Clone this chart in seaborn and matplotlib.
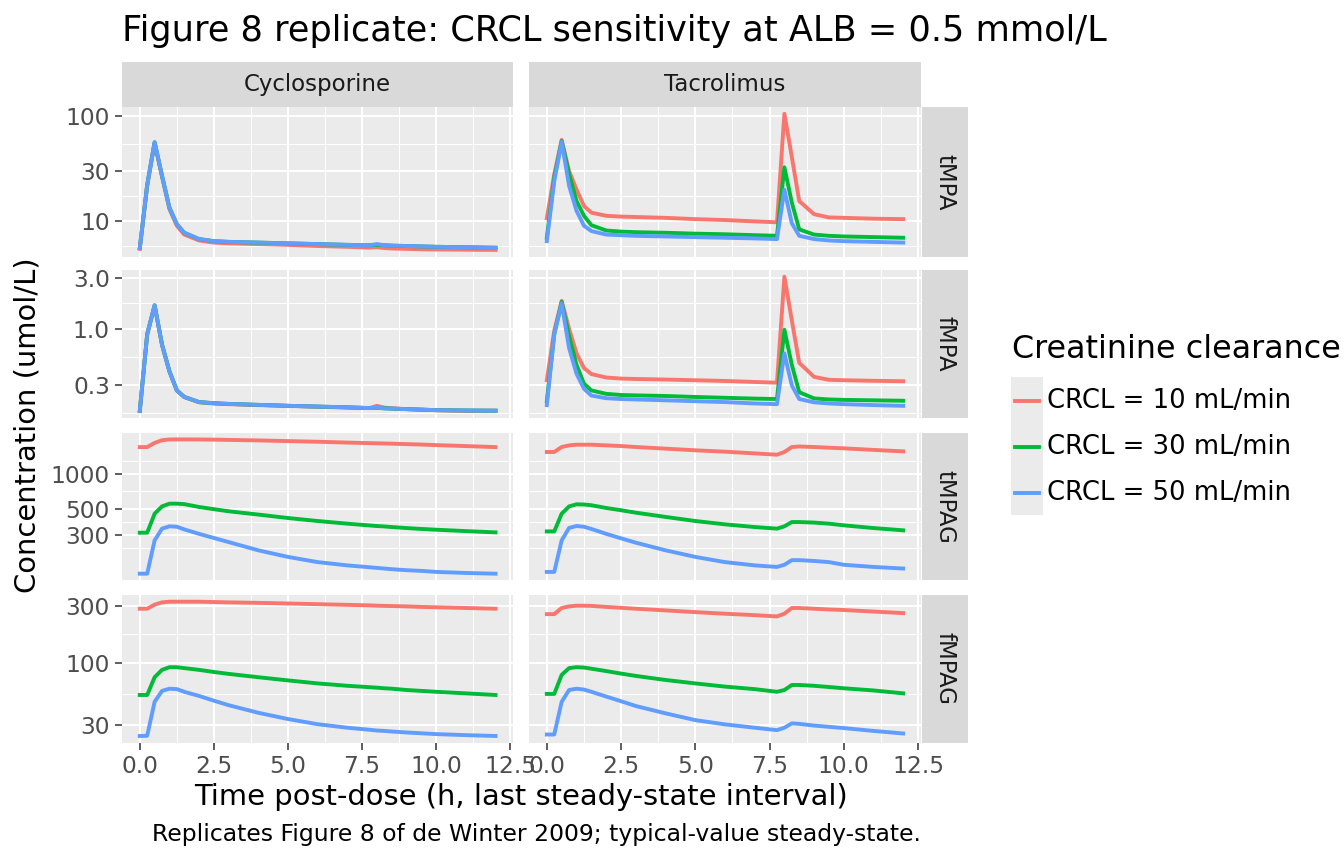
import numpy as np
import pandas as pd
import seaborn as sns
import matplotlib
matplotlib.use("Agg")
import matplotlib.pyplot as plt
from matplotlib.lines import Line2D
from matplotlib.patches import Rectangle
from matplotlib.ticker import FixedLocator, NullFormatter

# ---- values ----
TIME = [0, 0.25, 0.5, 0.75, 1, 1.25, 1.5, 2, 2.5, 3, 4, 5, 6, 7, 7.75, 8, 8.25, 8.5, 9, 9.5, 10, 11, 12]

# total MPA
CYC_TMPA_10 = [5.4, 22, 56, 26.5, 13.0, 9.0, 7.4, 6.5, 6.2, 6.1, 6.0, 5.9, 5.75, 5.65, 5.55, 5.6, 5.5, 5.45, 5.4, 5.35, 5.33, 5.3, 5.28]
CYC_TMPA_30 = [5.5, 22, 56.6, 27, 13.4, 9.3, 7.7, 6.7, 6.4, 6.3, 6.2, 6.1, 6.0, 5.9, 5.85, 5.9, 5.85, 5.8, 5.75, 5.7, 5.65, 5.6, 5.55]
CYC_TMPA_50 = [5.5, 22, 56.6, 27, 13.4, 9.3, 7.7, 6.7, 6.4, 6.3, 6.2, 6.1, 6.0, 5.9, 5.85, 6.0, 5.85, 5.8, 5.75, 5.7, 5.65, 5.6, 5.5]
TAC_TMPA_10 = [10.6, 28, 59.7, 30, 20, 13.9, 12.0, 11.2, 11.0, 10.9, 10.7, 10.4, 10.2, 9.9, 9.7, 106, 41, 15.5, 11.6, 10.8, 10.7, 10.5, 10.4]
TAC_TMPA_30 = [6.9, 26, 58, 28, 15.5, 11.2, 9.1, 8.1, 7.9, 7.8, 7.7, 7.55, 7.45, 7.3, 7.2, 32.6, 15, 8.3, 7.4, 7.2, 7.1, 7.0, 6.9]
TAC_TMPA_50 = [6.4, 24, 57, 21.7, 12.5, 9.0, 8.0, 7.4, 7.3, 7.2, 7.1, 7.0, 6.9, 6.8, 6.7, 19.9, 9.5, 7.2, 6.7, 6.5, 6.4, 6.3, 6.2]

# free MPA
CYC_FMPA_10 = [0.17, 0.89, 1.66, 0.71, 0.40, 0.265, 0.23, 0.205, 0.2, 0.197, 0.193, 0.19, 0.186, 0.183, 0.181, 0.19, 0.183, 0.18, 0.177, 0.175, 0.173, 0.17, 0.171]
CYC_FMPA_30 = [0.17, 0.89, 1.66, 0.71, 0.40, 0.265, 0.23, 0.206, 0.201, 0.198, 0.194, 0.19, 0.187, 0.184, 0.181, 0.182, 0.18, 0.179, 0.177, 0.175, 0.173, 0.172, 0.171]
CYC_FMPA_50 = [0.17, 0.89, 1.66, 0.71, 0.40, 0.265, 0.23, 0.206, 0.201, 0.198, 0.194, 0.19, 0.187, 0.184, 0.181, 0.183, 0.18, 0.179, 0.177, 0.175, 0.173, 0.172, 0.171]
TAC_FMPA_10 = [0.33, 0.96, 1.83, 1.0, 0.59, 0.43, 0.377, 0.35, 0.342, 0.339, 0.335, 0.33, 0.325, 0.318, 0.313, 3.08, 1.2, 0.48, 0.355, 0.333, 0.33, 0.326, 0.323]
TAC_FMPA_30 = [0.21, 0.89, 1.79, 0.85, 0.46, 0.307, 0.265, 0.246, 0.24, 0.238, 0.235, 0.23, 0.226, 0.222, 0.22, 0.98, 0.46, 0.255, 0.223, 0.218, 0.216, 0.214, 0.212]
TAC_FMPA_50 = [0.193, 0.89, 1.73, 0.66, 0.38, 0.275, 0.237, 0.224, 0.22, 0.218, 0.214, 0.21, 0.206, 0.2, 0.197, 0.59, 0.295, 0.22, 0.205, 0.2, 0.197, 0.193, 0.19]

# total MPAG
CYC_TMPAG_10 = [1680, 1680, 1823, 1922, 1950, 1952, 1952, 1950, 1943, 1933, 1914, 1889, 1865, 1835, 1815, 1809, 1803, 1796, 1781, 1766, 1747, 1714, 1680]
CYC_TMPAG_30 = [316, 316, 458, 528, 557, 557, 552, 522, 500, 480, 450, 421, 397, 377, 364, 360, 357, 353, 346, 340, 335, 326, 318]
CYC_TMPAG_50 = [142, 142, 272, 342, 358, 355, 337, 309, 285, 263, 224, 197, 178, 167, 161, 159, 157, 155, 152, 150, 147, 144, 142]
TAC_TMPAG_10 = [1527, 1527, 1683, 1738, 1761, 1761, 1761, 1738, 1715, 1683, 1630, 1578, 1536, 1486, 1448, 1527, 1683, 1700, 1683, 1660, 1640, 1590, 1546]
TAC_TMPAG_30 = [324, 324, 458, 528, 550, 548, 540, 512, 490, 467, 430, 397, 372, 353, 342, 358, 389, 389, 385, 377, 365, 346, 331]
TAC_TMPAG_50 = [147, 147, 272, 347, 360, 355, 340, 309, 283, 260, 224, 197, 178, 167, 162, 169, 185, 185, 182, 178, 169, 162, 157]

# free MPAG
CYC_FMPAG_10 = [283, 283, 306, 320, 324, 324, 324, 324, 322, 320, 317, 313, 309, 305, 302, 300, 299, 298, 296, 293, 291, 287, 283]
CYC_FMPAG_30 = [53.6, 53.6, 75.5, 87, 91.6, 91.6, 90, 87, 83.5, 80.5, 75.5, 71, 67, 64, 62.3, 61.7, 61, 60.5, 59, 58, 57, 55.3, 53.6]
CYC_FMPAG_50 = [24.3, 24.4, 47, 58, 60.5, 60, 57, 52.6, 48, 44, 38, 33.7, 30.5, 28.5, 27.4, 27, 26.8, 26.5, 26, 25.6, 25.2, 24.7, 24.3]
TAC_FMPAG_10 = [255, 255, 287, 296, 300, 300, 299, 293, 288, 283, 274, 265, 257, 250, 244, 257, 287, 287, 283, 279, 276, 268, 260]
TAC_FMPAG_30 = [54.7, 54.7, 79, 90, 91.6, 91, 89, 85, 81, 77.4, 71.6, 67, 63, 60, 57, 59, 65, 65, 64, 62.5, 61, 58.5, 55.3]
TAC_FMPAG_50 = [25, 25, 47, 59, 60.5, 59.5, 57, 52, 47.5, 43.3, 37.6, 33, 30.4, 28.5, 27.2, 28.5, 31, 30.7, 29.7, 29, 28.3, 26.8, 25.5]

DRUGS = ["Cyclosporine", "Tacrolimus"]
ANALYTES = ["tMPA", "fMPA", "tMPAG", "fMPAG"]
CRCL = ["CRCL = 10 mL/min", "CRCL = 30 mL/min", "CRCL = 50 mL/min"]
COLORS = ["#F8766D", "#00BA38", "#619CFF"]

TMPA_BREAKS = [10, 30, 100]
FMPA_BREAKS = [0.3, 1, 3]
TMPAG_BREAKS = [300, 500, 1000]
FMPAG_BREAKS = [30, 100, 300]
TMPA_LABELS = ["10", "30", "100"]
FMPA_LABELS = ["0.3", "1.0", "3.0"]
TMPAG_LABELS = ["300", "500", "1000"]
FMPAG_LABELS = ["30", "100", "300"]
X_BREAKS = [0, 2.5, 5, 7.5, 10, 12.5]
X_LABELS = ["0.0", "2.5", "5.0", "7.5", "10.0", "12.5"]

SERIES = {
    ("Cyclosporine", "tMPA"): [CYC_TMPA_10, CYC_TMPA_30, CYC_TMPA_50],
    ("Tacrolimus", "tMPA"): [TAC_TMPA_10, TAC_TMPA_30, TAC_TMPA_50],
    ("Cyclosporine", "fMPA"): [CYC_FMPA_10, CYC_FMPA_30, CYC_FMPA_50],
    ("Tacrolimus", "fMPA"): [TAC_FMPA_10, TAC_FMPA_30, TAC_FMPA_50],
    ("Cyclosporine", "tMPAG"): [CYC_TMPAG_10, CYC_TMPAG_30, CYC_TMPAG_50],
    ("Tacrolimus", "tMPAG"): [TAC_TMPAG_10, TAC_TMPAG_30, TAC_TMPAG_50],
    ("Cyclosporine", "fMPAG"): [CYC_FMPAG_10, CYC_FMPAG_30, CYC_FMPAG_50],
    ("Tacrolimus", "fMPAG"): [TAC_FMPAG_10, TAC_FMPAG_30, TAC_FMPAG_50],
}
Y_BREAKS = {"tMPA": (TMPA_BREAKS, TMPA_LABELS), "fMPA": (FMPA_BREAKS, FMPA_LABELS),
            "tMPAG": (TMPAG_BREAKS, TMPAG_LABELS), "fMPAG": (FMPAG_BREAKS, FMPAG_LABELS)}

rows = []
for (drug, analyte), vals in SERIES.items():
    for label, v in zip(CRCL, vals):
        for t, c in zip(TIME, v):
            rows.append((drug, analyte, label, t, c))
df = pd.DataFrame(rows, columns=["drug", "analyte", "crcl", "time", "conc"])

# ---- layout (pixel boxes, ggplot-like facet grid) ----
W, H = 1344, 864
COL_X = [(122, 513.3), (529, 921)]
ROW_Y = [(107, 256.7), (270, 417.7), (432.7, 580.4), (595, 742.7)]
TOP_STRIP = (62.3, 106.7)
RIGHT_STRIP = (921.5, 967.7)

PANEL_BG = "#EBEBEB"
STRIP_BG = "#D9D9D9"
TICK_TXT = "#4D4D4D"
SMALL = 16.8
BASE = 20.9
LW = 2.8


def box(x0, y0, x1, y1):
    return [x0 / W, 1 - y1 / H, (x1 - x0) / W, (y1 - y0) / H]


def gg_minor(majors, lo, hi):
    # ggplot2 regular_minor_breaks, in transformed space
    b = [m for m in majors if lo <= m <= hi]
    bd = b[1] - b[0]
    if lo < b[0]:
        b = [b[0] - bd] + b
    if hi > b[-1]:
        b = b + [b[-1] + bd]
    out = []
    for a, c in zip(b[:-1], b[1:]):
        out.append((a + c) / 2)
    return [m for m in out if lo <= m <= hi]


fig = plt.figure(figsize=(W / 100, H / 100), dpi=100)

x_lo, x_hi = min(TIME), max(TIME)
x_pad = 0.05 * (x_hi - x_lo)
x_lim = (x_lo - x_pad, x_hi + x_pad)
x_minor = gg_minor(X_BREAKS, *x_lim)

for i, analyte in enumerate(ANALYTES):
    lv = np.log10(df.loc[df.analyte == analyte, "conc"])
    pad = 0.05 * (lv.max() - lv.min())
    llo, lhi = lv.min() - pad, lv.max() + pad
    breaks, labels = Y_BREAKS[analyte]
    y_minor = [10 ** m for m in gg_minor(list(np.log10(breaks)), llo, lhi)]

    for j, drug in enumerate(DRUGS):
        ax = fig.add_axes(box(COL_X[j][0], ROW_Y[i][0], COL_X[j][1], ROW_Y[i][1]))
        ax.set_facecolor(PANEL_BG)
        sub = df[(df.drug == drug) & (df.analyte == analyte)]
        sns.lineplot(data=sub, x="time", y="conc", hue="crcl", hue_order=CRCL,
                     palette=COLORS, linewidth=LW, estimator=None, legend=False, ax=ax)
        ax.set_yscale("log")
        ax.set_xlim(*x_lim)
        ax.set_ylim(10 ** llo, 10 ** lhi)

        ax.yaxis.set_major_locator(FixedLocator(breaks))
        ax.set_yticklabels(labels)
        ax.yaxis.set_minor_locator(FixedLocator(y_minor))
        ax.yaxis.set_minor_formatter(NullFormatter())
        ax.set_xticks(X_BREAKS)
        ax.set_xticklabels(X_LABELS)
        ax.xaxis.set_minor_locator(FixedLocator(x_minor))

        ax.set_axisbelow(True)
        ax.grid(which="minor", color="white", linewidth=0.75)
        ax.grid(which="major", color="white", linewidth=1.45)
        for s in ax.spines.values():
            s.set_visible(False)
        ax.set_xlabel("")
        ax.set_ylabel("")
        ax.tick_params(which="minor", length=0)
        ax.tick_params(which="major", length=5.2, width=1.1, color="#333333",
                       labelsize=SMALL, labelcolor=TICK_TXT, pad=3.5)
        if j > 0:
            ax.tick_params(axis="y", length=0, labelleft=False)
        if i < len(ANALYTES) - 1:
            ax.tick_params(axis="x", length=0, labelbottom=False)

    # right strip with analyte name
    sax = fig.add_axes(box(RIGHT_STRIP[0], ROW_Y[i][0], RIGHT_STRIP[1], ROW_Y[i][1]))
    sax.set_facecolor(STRIP_BG)
    sax.set_xticks([])
    sax.set_yticks([])
    for s in sax.spines.values():
        s.set_visible(False)
    sax.text(0.5, 0.5, analyte, rotation=-90, ha="center", va="center",
             fontsize=16.5, color="#1A1A1A", transform=sax.transAxes)

# top strips with drug names
for j, drug in enumerate(DRUGS):
    sax = fig.add_axes(box(COL_X[j][0], TOP_STRIP[0], COL_X[j][1], TOP_STRIP[1]))
    sax.set_facecolor(STRIP_BG)
    sax.set_xticks([])
    sax.set_yticks([])
    for s in sax.spines.values():
        s.set_visible(False)
    sax.text(0.5, 0.5, drug, ha="center", va="center", fontsize=16.5,
             color="#1A1A1A", transform=sax.transAxes)

# titles
fig.text(122 / W, 1 - 31 / H, "Figure 8 replicate: CRCL sensitivity at ALB = 0.5 mmol/L",
         ha="left", va="center", fontsize=25.3)
fig.text(521.5 / W, 1 - 797 / H, "Time post-dose (h, last steady-state interval)",
         ha="center", va="center", fontsize=BASE)
fig.text(28 / W, 1 - 425 / H, "Concentration (umol/L)", rotation=90,
         ha="center", va="center", fontsize=BASE)
fig.text(921 / W, 1 - 835 / H, "Replicates Figure 8 of de Winter 2009; typical-value steady-state.",
         ha="right", va="center", fontsize=16.9)

# legend
fig.text(1012 / W, 1 - 350 / H, "Creatinine clearance", ha="left", va="center", fontsize=22.9)
fig.patches.append(Rectangle((1011 / W, 1 - 515 / H), 32 / W, 138 / H,
                             transform=fig.transFigure, facecolor=PANEL_BG,
                             edgecolor="none", zorder=1))
for k, (lab, col) in enumerate(zip(CRCL, COLORS)):
    yc = 1 - (401 + 46 * k) / H
    fig.lines.append(Line2D([1015 / W, 1039 / W], [yc, yc], transform=fig.transFigure,
                            color=col, linewidth=LW, zorder=2))
    fig.text(1047 / W, yc, lab, ha="left", va="center", fontsize=18.6)

fig.savefig("out.png", dpi=100)
